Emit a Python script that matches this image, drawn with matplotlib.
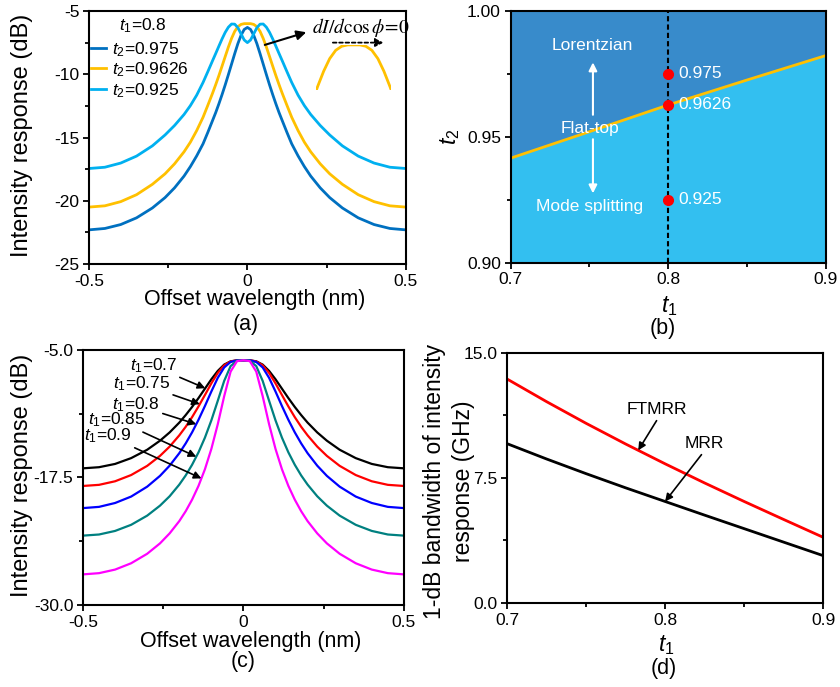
import numpy as np
import matplotlib
matplotlib.use('Agg')
import matplotlib.pyplot as plt
from matplotlib.ticker import MultipleLocator, FixedLocator

plt.rcParams['font.family'] = 'Liberation Sans'
plt.rcParams['mathtext.fontset'] = 'custom'
plt.rcParams['mathtext.rm'] = 'Liberation Sans'
plt.rcParams['mathtext.it'] = 'Liberation Sans:italic'
plt.rcParams['axes.unicode_minus'] = False

# ---- panel (a): t1 = 0.8, three t2 values ----
wl_a = [-0.5, -0.45, -0.4, -0.35, -0.3, -0.26, -0.23, -0.2, -0.18, -0.16, -0.14, -0.125,
        -0.11, -0.1, -0.09, -0.08, -0.07, -0.06, -0.05, -0.04, -0.03, -0.02, -0.01, 0.0,
        0.01, 0.02, 0.03, 0.04, 0.05, 0.06, 0.07, 0.08, 0.09, 0.1, 0.11, 0.125, 0.14,
        0.16, 0.18, 0.2, 0.23, 0.26, 0.3, 0.35, 0.4, 0.45, 0.5]
t2_labels = ['0.975', '0.9626', '0.925']
a_t2_0975 = [-22.30, -22.19, -21.88, -21.35, -20.57, -19.75, -18.98, -18.05, -17.30, -16.45,
             -15.50, -14.60, -13.66, -13.03, -12.34, -11.61, -10.84, -10.03, -9.20, -8.37,
             -7.58, -6.92, -6.46, -6.30, -6.46, -6.92, -7.58, -8.37, -9.20, -10.03, -10.84,
             -11.61, -12.34, -13.03, -13.66, -14.60, -15.50, -16.45, -17.30, -18.05, -18.98,
             -19.75, -20.57, -21.35, -21.88, -22.19, -22.30]
a_t2_09626 = [-20.50, -20.40, -20.07, -19.52, -18.70, -17.87, -17.08, -16.13, -15.37, -14.45,
              -13.40, -12.46, -11.50, -10.82, -10.11, -9.36, -8.60, -7.85, -7.17, -6.61,
              -6.24, -6.06, -6.00, -6.00, -6.00, -6.06, -6.24, -6.61, -7.17, -7.85, -8.60,
              -9.36, -10.11, -10.82, -11.50, -12.46, -13.40, -14.45, -15.37, -16.13, -17.08,
              -17.87, -18.70, -19.52, -20.07, -20.40, -20.50]
a_t2_0925 = [-17.45, -17.35, -17.02, -16.47, -15.66, -14.80, -14.05, -13.18, -12.48, -11.65,
             -10.65, -9.80, -8.93, -8.36, -7.78, -7.21, -6.69, -6.28, -6.03, -6.04, -6.32,
             -6.81, -7.29, -7.50, -7.29, -6.81, -6.32, -6.04, -6.03, -6.28, -6.69, -7.21,
             -7.78, -8.36, -8.93, -9.80, -10.65, -11.65, -12.48, -13.18, -14.05, -14.80,
             -15.66, -16.47, -17.02, -17.35, -17.45]

# ---- panel (b): boundary between Lorentzian and mode splitting ----
b_t1 = [0.7, 0.75, 0.8, 0.85, 0.9]
b_t2_flat = [0.9415, 0.9520, 0.9626, 0.9725, 0.9822]
b_pts_t1 = [0.8, 0.8, 0.8]
b_pts_t2 = [0.975, 0.9626, 0.925]

# ---- panel (c): flat-top responses for several t1 ----
wl_c = [-0.5, -0.45, -0.4, -0.35, -0.3, -0.26, -0.23, -0.2, -0.18, -0.16, -0.14, -0.12,
        -0.1, -0.08, -0.06, -0.04, -0.02, 0.0, 0.02, 0.04, 0.06, 0.08, 0.1, 0.12, 0.14,
        0.16, 0.18, 0.2, 0.23, 0.26, 0.3, 0.35, 0.4, 0.45, 0.5]
c_t1_labels = ['0.7', '0.75', '0.8', '0.85', '0.9']
c_t1_07 = [-16.60, -16.49, -16.17, -15.60, -14.78, -13.89, -13.08, -12.12, -11.38, -10.58,
           -9.71, -8.79, -7.87, -7.05, -6.43, -6.11, -6.01, -6.00, -6.01, -6.11, -6.43,
           -7.05, -7.87, -8.79, -9.71, -10.58, -11.38, -12.12, -13.08, -13.89, -14.78,
           -15.60, -16.17, -16.49, -16.60]
c_t1_075 = [-18.33, -18.22, -17.87, -17.26, -16.36, -15.38, -14.47, -13.37, -12.53, -11.58,
            -10.53, -9.41, -8.27, -7.25, -6.50, -6.12, -6.01, -6.00, -6.01, -6.12, -6.50,
            -7.25, -8.27, -9.41, -10.53, -11.58, -12.53, -13.37, -14.47, -15.38, -16.36,
            -17.26, -17.87, -18.22, -18.33]
c_t1_08 = [-20.50, -20.38, -20.00, -19.37, -18.40, -17.34, -16.34, -15.12, -14.16, -13.07,
           -11.84, -10.49, -9.07, -7.73, -6.71, -6.17, -6.01, -6.00, -6.01, -6.17, -6.71,
           -7.73, -9.07, -10.49, -11.84, -13.07, -14.16, -15.12, -16.34, -17.34, -18.40,
           -19.37, -20.00, -20.38, -20.50]
c_t1_085 = [-23.20, -23.09, -22.74, -22.14, -21.24, -20.26, -19.34, -18.20, -17.30, -16.25,
            -15.03, -13.59, -11.90, -9.98, -8.03, -6.58, -6.04, -6.00, -6.04, -6.58, -8.03,
            -9.98, -11.90, -13.59, -15.03, -16.25, -17.30, -18.20, -19.34, -20.26, -21.24,
            -22.14, -22.74, -23.09, -23.20]
c_t1_09 = [-27.00, -26.88, -26.53, -25.91, -24.98, -23.96, -22.98, -21.78, -20.81, -19.67,
           -18.32, -16.69, -14.70, -12.28, -9.53, -7.12, -6.09, -6.00, -6.09, -7.12, -9.53,
           -12.28, -14.70, -16.69, -18.32, -19.67, -20.81, -21.78, -22.98, -23.96, -24.98,
           -25.91, -26.53, -26.88, -27.00]

# ---- panel (d): 1-dB bandwidth vs t1 ----
d_t1 = [0.7, 0.725, 0.75, 0.775, 0.8, 0.825, 0.85, 0.875, 0.9]
d_ftmrr = [13.44, 12.08, 10.78, 9.54, 8.35, 7.20, 6.09, 5.01, 3.94]
d_mrr = [9.56, 8.64, 7.76, 6.91, 6.09, 5.27, 4.46, 3.65, 2.84]

TICK_FS = 12.5
LAB_FS = 15.5
YLAB_FS = 17


def style_axes(ax):
    for s in ax.spines.values():
        s.set_linewidth(1.5)
    ax.tick_params(which='both', direction='out', top=False, right=False,
                   labelsize=TICK_FS, width=1.3, pad=3)
    ax.tick_params(which='major', length=4)
    ax.tick_params(which='minor', length=3)


def arrow(ax, start, tip, color='k', lw=1.2, ms=11, ls='-'):
    ax.annotate('', xy=tip, xytext=start,
                arrowprops=dict(arrowstyle='-|>', color=color, lw=lw, ls=ls,
                                mutation_scale=ms, shrinkA=0, shrinkB=0))


fig = plt.figure(figsize=(8.4, 6.87), dpi=100)
ax_a = fig.add_axes([0.106, 0.6157, 0.377, 0.3683])
ax_b = fig.add_axes([0.608, 0.6176, 0.375, 0.3668])
ax_c = fig.add_axes([0.0988, 0.1194, 0.382, 0.3711])
ax_d = fig.add_axes([0.6036, 0.1223, 0.3764, 0.3639])

# ---------------- (a) ----------------
ca = ['#0070C0', '#FFC000', '#00B0F0']
for ys, col, lab in zip([a_t2_0975, a_t2_09626, a_t2_0925], ca, t2_labels):
    ax_a.plot(wl_a, ys, color=col, lw=2.0, label=r'$t_2$=' + lab)
ax_a.set_xlim(-0.5, 0.5)
ax_a.set_ylim(-25, -5)
ax_a.xaxis.set_major_locator(FixedLocator([-0.5, 0, 0.5]))
ax_a.xaxis.set_minor_locator(FixedLocator([-0.25, 0.25]))
ax_a.set_xticklabels(['-0.5', '0', '0.5'])
ax_a.yaxis.set_major_locator(MultipleLocator(5))
ax_a.yaxis.set_minor_locator(MultipleLocator(2.5))
style_axes(ax_a)
ax_a.set_xlabel('Offset wavelength (nm)', fontsize=LAB_FS, va='center')
ax_a.xaxis.set_label_coords(0.524, -0.142)
ax_a.set_ylabel('Intensity response (dB)', fontsize=YLAB_FS, va='center')
ax_a.yaxis.set_label_coords(-0.211, 0.51)
ax_a.text(0.494, -0.241, '(a)', transform=ax_a.transAxes, fontsize=LAB_FS,
          ha='center', va='center')
ax_a.text(0.095, 0.941, r'$t_1$=0.8', transform=ax_a.transAxes, fontsize=TICK_FS,
          ha='left', va='center')
ax_a.legend(loc='upper left', bbox_to_anchor=(0.005, 0.885), frameon=False,
            fontsize=TICK_FS, handlelength=0.9, handletextpad=0.35, labelspacing=0.1,
            borderpad=0, borderaxespad=0)
# zoomed flat top of the t2 = 0.9626 curve
ax_a.annotate('', xy=(0.686, 0.916), xytext=(0.555, 0.866), xycoords='axes fraction',
              arrowprops=dict(arrowstyle='-|>', color='k', lw=1.5, mutation_scale=14,
                              shrinkA=0, shrinkB=0))
ax_a.text(0.705, 0.935, r'$dI/d\cos\phi\!=\!0$', transform=ax_a.transAxes, fontsize=14,
          math_fontfamily='stix', ha='left', va='center')
ax_a.annotate('', xy=(0.93, 0.875), xytext=(0.77, 0.875), xycoords='axes fraction',
              arrowprops=dict(arrowstyle='-|>', color='k', lw=1.3, ls=(0, (2, 1.5)),
                              mutation_scale=12, shrinkA=0, shrinkB=0))
ins = ax_a.inset_axes([0.718, 0.688, 0.236, 0.178])
ins.plot(wl_a, a_t2_09626, color='#FFC000', lw=2.0)
ins.set_xlim(-0.062, 0.062)
ins.set_ylim(-8.0, -6.0)
ins.axis('off')

# ---------------- (b) ----------------
ax_b.fill_between(b_t1, b_t2_flat, 1.0, color='#388BCB', lw=0)
ax_b.fill_between(b_t1, 0.9, b_t2_flat, color='#33BFF0', lw=0)
ax_b.plot(b_t1, b_t2_flat, color='#FFC000', lw=2.0)
ax_b.axvline(0.8, color='k', lw=1.5, ls=(0, (2.5, 1.5)))
ax_b.plot(b_pts_t1, b_pts_t2, 'o', color='#FF0000', ms=7, zorder=5)
for yv, lab in zip(b_pts_t2, ['0.975', '0.9626', '0.925']):
    ax_b.text(0.8063, yv, lab, color='white', fontsize=TICK_FS, ha='left', va='center')
ax_b.text(0.7518, 0.9863, 'Lorentzian', color='white', fontsize=TICK_FS, ha='center', va='center')
ax_b.text(0.7503, 0.9533, 'Flat-top', color='white', fontsize=TICK_FS, ha='center', va='center')
ax_b.text(0.7499, 0.9222, 'Mode splitting', color='white', fontsize=TICK_FS, ha='center', va='center')
arrow(ax_b, (0.7522, 0.9587), (0.7522, 0.9795), color='white', lw=1.5, ms=12)
arrow(ax_b, (0.7522, 0.9490), (0.7522, 0.9275), color='white', lw=1.5, ms=12)
ax_b.set_xlim(0.7, 0.9)
ax_b.set_ylim(0.9, 1.0)
ax_b.xaxis.set_major_locator(FixedLocator([0.7, 0.8, 0.9]))
ax_b.xaxis.set_minor_locator(FixedLocator([0.75, 0.85]))
ax_b.set_xticklabels(['0.7', '0.8', '0.9'])
ax_b.yaxis.set_major_locator(FixedLocator([0.9, 0.95, 1.0]))
ax_b.yaxis.set_minor_locator(FixedLocator([0.925, 0.975]))
ax_b.set_yticklabels(['0.90', '0.95', '1.00'])
style_axes(ax_b)
ax_b.set_xlabel(r'$t_1$', fontsize=LAB_FS + 1, va='center')
ax_b.xaxis.set_label_coords(0.503, -0.171)
ax_b.set_ylabel(r'$t_2$', fontsize=LAB_FS + 1, va='center')
ax_b.yaxis.set_label_coords(-0.193, 0.5)
ax_b.text(0.484, -0.261, '(b)', transform=ax_b.transAxes, fontsize=LAB_FS,
          ha='center', va='center')

# ---------------- (c) ----------------
cc = ['#000000', '#FF0000', '#0000FF', '#008080', '#FF00FF']
c_series = [c_t1_07, c_t1_075, c_t1_08, c_t1_085, c_t1_09]
for ys, col in zip(c_series, cc):
    ax_c.plot(wl_c, ys, color=col, lw=1.6)
c_tip_x = [-0.119, -0.136, -0.147, -0.147, -0.131]
c_txt = [(-0.207, -6.57), (-0.228, -8.33), (-0.26, -10.4), (-0.306, -11.86), (-0.347, -13.4)]
for ys, lab, tx, (xt, yt) in zip(c_series, c_t1_labels, c_tip_x, c_txt):
    ax_c.annotate(r'$t_1$=' + lab, xy=(tx, np.interp(tx, wl_c, ys)), xytext=(xt, yt),
                  fontsize=TICK_FS, ha='right', va='center',
                  arrowprops=dict(arrowstyle='-|>', color='k', lw=1.2, mutation_scale=11,
                                  shrinkA=0, shrinkB=0))
ax_c.set_xlim(-0.5, 0.5)
ax_c.set_ylim(-30, -5)
ax_c.xaxis.set_major_locator(FixedLocator([-0.5, 0, 0.5]))
ax_c.xaxis.set_minor_locator(FixedLocator([-0.25, 0.25]))
ax_c.set_xticklabels(['-0.5', '0', '0.5'])
ax_c.yaxis.set_major_locator(FixedLocator([-30, -17.5, -5]))
ax_c.yaxis.set_minor_locator(FixedLocator([-23.75, -11.25]))
ax_c.set_yticklabels(['-30.0', '-17.5', '-5.0'])
style_axes(ax_c)
ax_c.set_xlabel('Offset wavelength (nm)', fontsize=LAB_FS, va='center')
ax_c.xaxis.set_label_coords(0.522, -0.144)
ax_c.set_ylabel('Intensity response (dB)', fontsize=YLAB_FS, va='center')
ax_c.yaxis.set_label_coords(-0.191, 0.507)
ax_c.text(0.499, -0.222, '(c)', transform=ax_c.transAxes, fontsize=LAB_FS,
          ha='center', va='center')

# ---------------- (d) ----------------
ax_d.plot(d_t1, d_ftmrr, color='#FF0000', lw=2.0)
ax_d.plot(d_t1, d_mrr, color='#000000', lw=2.0)
ax_d.text(0.7946, 11.6, 'FTMRR', fontsize=TICK_FS, ha='center', va='center')
arrow(ax_d, (0.7946, 10.94), (0.783, np.interp(0.783, d_t1, d_ftmrr)))
ax_d.text(0.8245, 9.54, 'MRR', fontsize=TICK_FS, ha='center', va='center')
arrow(ax_d, (0.823, 8.9), (0.8, np.interp(0.8, d_t1, d_mrr)))
ax_d.set_xlim(0.7, 0.9)
ax_d.set_ylim(0, 15)
ax_d.xaxis.set_major_locator(FixedLocator([0.7, 0.8, 0.9]))
ax_d.xaxis.set_minor_locator(FixedLocator([0.75, 0.85]))
ax_d.set_xticklabels(['0.7', '0.8', '0.9'])
ax_d.yaxis.set_major_locator(FixedLocator([0, 7.5, 15]))
ax_d.yaxis.set_minor_locator(FixedLocator([3.75, 11.25]))
ax_d.set_yticklabels(['0.0', '7.5', '15.0'])
style_axes(ax_d)
ax_d.set_xlabel(r'$t_1$', fontsize=LAB_FS + 1, va='center')
ax_d.xaxis.set_label_coords(0.505, -0.168)
ax_d.text(-0.228, 0.486, '1-dB bandwidth of intensity', transform=ax_d.transAxes,
          fontsize=16.5, rotation=90, ha='center', va='center')
ax_d.text(-0.139, 0.486, 'response (GHz)', transform=ax_d.transAxes,
          fontsize=16.5, rotation=90, ha='center', va='center')
ax_d.text(0.497, -0.261, '(d)', transform=ax_d.transAxes, fontsize=LAB_FS,
          ha='center', va='center')

fig.savefig('out.png', dpi=100)
